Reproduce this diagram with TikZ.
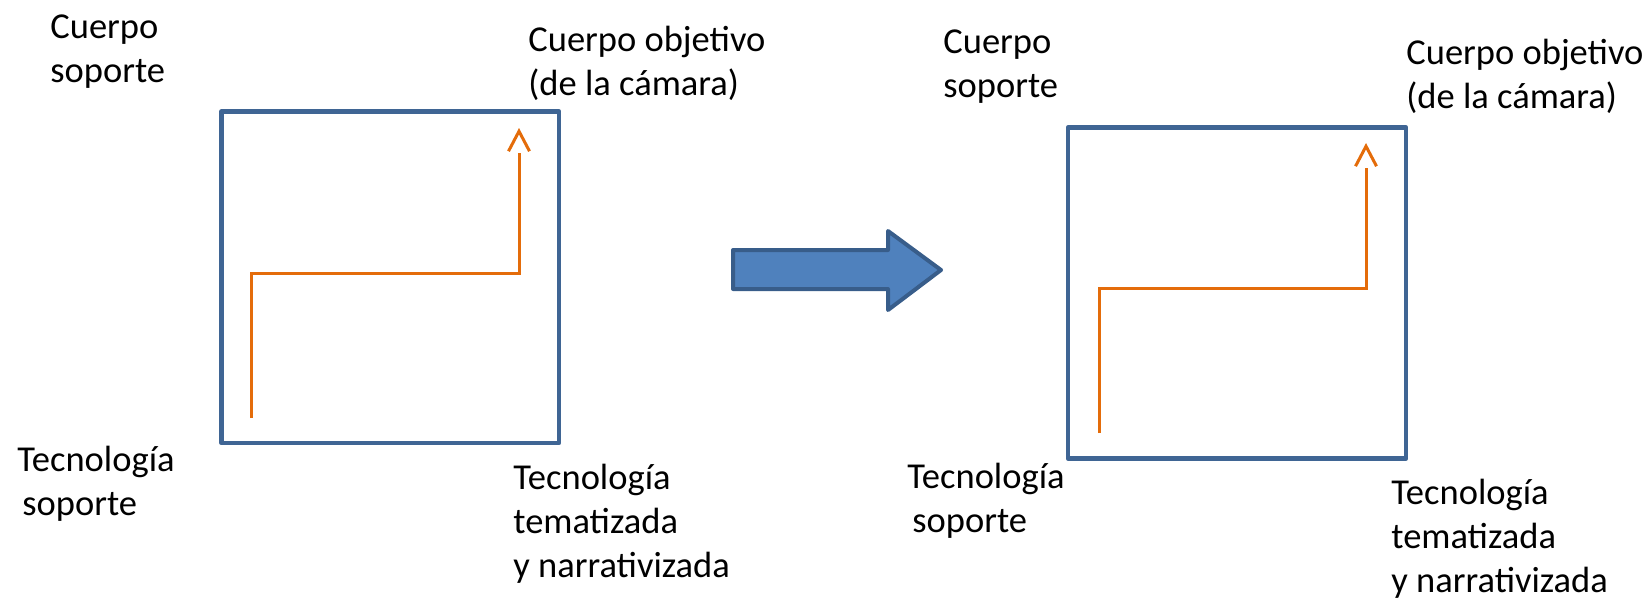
\documentclass[tikz,border=0pt]{standalone}
\usepackage{fontspec}
\setmainfont{Carlito}
\usetikzlibrary{arrows.meta}
\definecolor{marcoazul}{HTML}{3F6594}
\definecolor{rutanaranja}{HTML}{E46C0A}
\definecolor{flechaazul}{HTML}{4F81BD}
\definecolor{flechaborde}{HTML}{385D8A}
\begin{document}
\begin{tikzpicture}[x=0.5pt,y=-0.5pt,
		marco/.style={draw=marcoazul,line width=2.25pt,line join=round},
		ruta/.style={draw=rutanaranja,line width=1.5pt,-{.Straight Barb[length=10pt,width=10.5pt]}},
		rotulo/.style={anchor=base west,align=left,inner sep=0pt,font=\fontsize{18.25}{22}\selectfont}]
		\useasboundingbox (0,0) rectangle (1652,600);
		\draw[marco] (221.5,111.5) rectangle (559,443);
		\draw[marco] (1068,127.5) rectangle (1406,458.5);
		\coordinate (ini1) at (251.5,418);
		\coordinate (codo1) at (519,273);
		\coordinate (fin1) at (519,128);
		\coordinate (ini2) at (1099,433);
		\coordinate (codo2) at (1366,288);
		\coordinate (fin2) at (1366,143);
		\draw[ruta] (ini1) |- (codo1) -- (fin1);
		\draw[ruta] (ini2) |- (codo2) -- (fin2);
		\draw[draw=flechaborde,fill=flechaazul,line width=2pt,line join=round] (733,250)--(888,250)--(888,231)--(941,270)--(888,310)--(888,289)--(733,289)--cycle;
		\node[rotulo] (soporte1) at (50,82) {Cuerpo\\soporte};
		\node[rotulo] (objetivo1) at (528,95) {Cuerpo objetivo\\(de la cámara)};
		\node[rotulo] (tecsoporte1) at (17,515) {Tecnología\\\hspace*{2.5pt}soporte};
		\node[rotulo] (tecnarr1) at (513,577) {Tecnología\\tematizada\\y narrativizada};
		\node[rotulo] (soporte2) at (943,97) {Cuerpo\\soporte};
		\node[rotulo] (objetivo2) at (1406,108) {Cuerpo objetivo\\(de la cámara)};
		\node[rotulo] (tecsoporte2) at (907,532) {Tecnología\\\hspace*{2.5pt}soporte};
		\node[rotulo] (tecnarr2) at (1391,592) {Tecnología\\tematizada\\y narrativizada};
	\end{tikzpicture}
\end{document}
